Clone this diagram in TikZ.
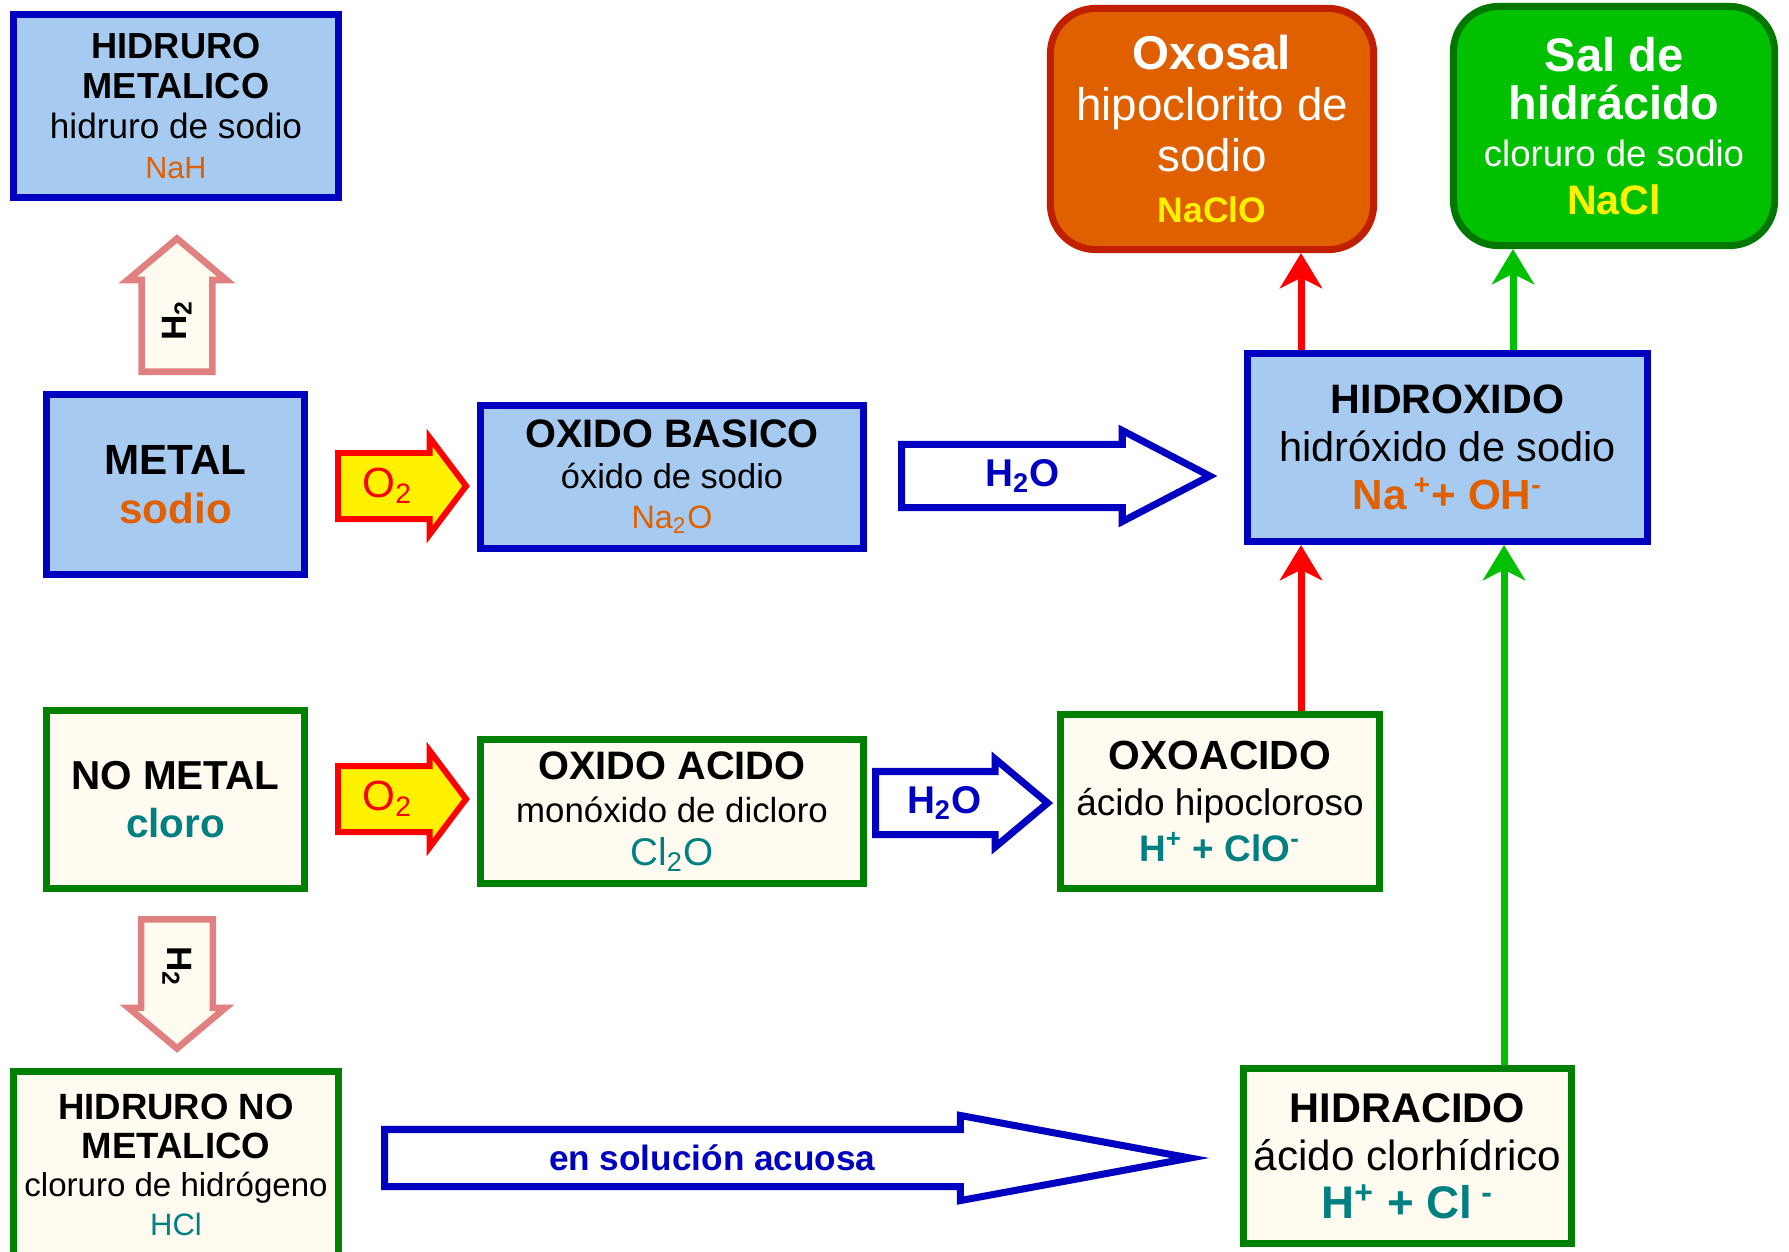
\documentclass[tikz,border=0pt]{standalone}
\usepackage{fontspec}
\setmainfont{Liberation Sans}
\usetikzlibrary{positioning}
\usetikzlibrary{calc}
\usetikzlibrary{shapes.arrows}
\usetikzlibrary{arrows.meta}

\definecolor{boxblue}{HTML}{A6CAF0}
\definecolor{edgeblue}{HTML}{0000C0}
\definecolor{cream}{HTML}{FFFBF0}
\definecolor{edgegreen}{HTML}{008000}
\definecolor{naranja}{HTML}{E06000}
\definecolor{edgeorange}{HTML}{C02000}
\definecolor{verde}{HTML}{00C000}
\definecolor{saledge}{HTML}{007800}
\definecolor{teal2}{HTML}{008080}
\definecolor{salmon}{HTML}{E08080}
\newcommand{\fsz}[1]{\fontsize{#1}{#1}\selectfont}
\newcommand{\bskip}[1]{\fontsize{10}{#1}\selectfont}

\begin{document}
\begin{tikzpicture}[x=0.01cm,y=-0.01cm,
  bluebox/.style={draw=edgeblue,fill=boxblue,line width=2pt,align=center,inner sep=0pt},
  creambox/.style={draw=edgegreen,fill=cream,line width=2pt,align=center,inner sep=0pt},
  salbox/.style={rounded corners=0.45cm,line width=2pt,align=center,inner sep=0pt,text=white},
  blockarrow/.style={single arrow,anchor=tail,inner xsep=0pt},
  oxygen/.style={blockarrow,draw=red,fill=yellow,line width=1.7pt,single arrow tip angle=106,
    minimum height=1.28cm,inner ysep=0.30cm,single arrow head extend=0.155cm},
  water/.style={blockarrow,draw=edgeblue,fill=white,line width=2pt},
  hydrogen/.style={blockarrow,draw=salmon,fill=cream,line width=1.9pt,single arrow tip angle=100},
  redline/.style={draw=red,line width=2pt,-{Stealth[length=10pt,width=12pt,inset=3pt]}},
  greenline/.style={draw=verde,line width=2pt,-{Stealth[length=10pt,width=12pt,inset=3pt]}}]
\useasboundingbox (0,0) rectangle (1789,1251);

\node[bluebox,minimum width=3.25cm,minimum height=1.82cm,font=\bskip{11.4}] (hmetalico) at (176,106)
  {{\fsz{10.3}\bfseries HIDRURO}\\{\fsz{10.3}\bfseries METALICO}\\{\fsz{10}hidruro de sodio}\\{\fsz{8.7}\color{naranja}NaH}};
\node[bluebox,minimum width=2.58cm,minimum height=1.80cm,font=\bskip{14}] (metal) at (175.5,484.5)
  {{\fsz{12}\bfseries METAL}\\{\fsz{12}\bfseries\color{naranja}sodio}};
\node[bluebox,minimum width=3.83cm,minimum height=1.43cm,font=\bskip{11.5}] (oxbasico) at (672,477)
  {{\fsz{11.3}\bfseries OXIDO BASICO}\\{\fsz{9.8}óxido de sodio}\\{\fsz{9.2}\color{naranja}Na\textsubscript{2}O}};
\node[bluebox,minimum width=4.00cm,minimum height=1.88cm,font=\bskip{13.6}] (hidroxido) at (1447.5,447.5)
  {{\fsz{11.7}\bfseries HIDROXIDO}\\{\fsz{11.8}hidróxido de sodio}\\{\fsz{12}\bfseries\color{naranja}Na\,\textsuperscript{+}+ OH\textsuperscript{-}}};
\node[salbox,fill=naranja,draw=edgeorange,minimum width=3.23cm,minimum height=2.41cm,font=\bskip{14.5}] (oxosal) at (1212,129)
  {{\fsz{13.5}\bfseries Oxosal}\\{\fsz{13}hipoclorito de}\\{\fsz{13}sodio}\\{\fsz{10.1}\bfseries\color{yellow}NaClO}};
\node[salbox,fill=verde,draw=saledge,minimum width=3.21cm,minimum height=2.39cm,font=\bskip{13.5}] (salhidracido) at (1614,126)
  {{\fsz{13.4}\bfseries Sal de}\\{\fsz{13.3}\bfseries hidrácido}\\{\fsz{10.4}cloruro de sodio}\\{\fsz{11.7}\bfseries\color{yellow}NaCl}};
\node[creambox,minimum width=2.58cm,minimum height=1.78cm,font=\bskip{13.7}] (nometal) at (175.5,799.5)
  {{\fsz{11.5}\bfseries NO METAL}\\{\fsz{11.5}\bfseries\color{teal2}cloro}};
\node[creambox,minimum width=3.83cm,minimum height=1.44cm,font=\bskip{12.2}] (oxacido) at (672,811.5)
  {{\fsz{11.3}\bfseries OXIDO ACIDO}\\{\fsz{9.9}monóxido de dicloro}\\{\fsz{11}\color{teal2}Cl\textsubscript{2}O}};
\node[creambox,minimum width=3.19cm,minimum height=1.74cm,font=\bskip{13}] (oxoacido) at (1220,801.5)
  {{\fsz{11.6}\bfseries OXOACIDO}\\{\fsz{10.5}ácido hipocloroso}\\{\fsz{10.5}\bfseries\color{teal2}H\textsuperscript{+} + ClO\textsuperscript{-}}};
\node[creambox,minimum width=3.25cm,minimum height=1.87cm,font=\bskip{11}] (hnometalico) at (176,1165)
  {{\fsz{10.4}\bfseries HIDRURO NO}\\{\fsz{10.4}\bfseries METALICO}\\{\fsz{9.4}cloruro de hidrógeno}\\{\fsz{8.8}\color{teal2}HCl}};
\node[creambox,minimum width=3.28cm,minimum height=1.75cm,font=\bskip{13.7}] (hidracido) at (1407.5,1156)
  {{\fsz{11.8}\bfseries HIDRACIDO}\\{\fsz{12}ácido clorhídrico}\\{\fsz{13}\bfseries\color{teal2}H\textsuperscript{+} + Cl\textsuperscript{ -}}};

\node[oxygen] (o2arriba) at (335,486) {};
\node[oxygen] (o2abajo) at (335,799) {};
\node[water,minimum height=3.08cm,inner ysep=0.28cm,single arrow head extend=0.14cm,single arrow tip angle=55] (h2oarriba) at (898,476) {};
\node[water,minimum height=1.72cm,inner ysep=0.28cm,single arrow head extend=0.125cm,single arrow tip angle=80] (h2oabajo) at (872,803) {};
\node[water,minimum height=8.05cm,inner ysep=0.25cm,single arrow head extend=0.14cm,single arrow tip angle=21] (acuosa) at (381,1158) {};
\node[hydrogen,rotate=90,minimum height=1.33cm,inner ysep=0.32cm,single arrow head extend=0.14cm] (h2arriba) at (177,375) {};
\node[hydrogen,rotate=-90,minimum height=1.29cm,inner ysep=0.325cm,single arrow head extend=0.125cm] (h2abajo) at (177,916) {};

\node[red,font=\fsz{12}] (o2a) at ($(o2arriba.tail)!0.39!(o2arriba.tip)$) {O\textsubscript{2}};
\node[red,font=\fsz{12}] (o2b) at ($(o2abajo.tail)!0.39!(o2abajo.tip)$) {O\textsubscript{2}};
\node[edgeblue,font=\fsz{11}\bfseries] (h2oa) at ($(h2oarriba.tail)!0.39!(h2oarriba.tip)$) {H\textsubscript{2}O};
\node[edgeblue,font=\fsz{11}\bfseries] (h2ob) at ($(h2oabajo.tail)!0.40!(h2oabajo.tip)$) {H\textsubscript{2}O};
\node[edgeblue,font=\fsz{10}\bfseries] (acuosat) at ($(acuosa.tail)!0.40!(acuosa.tip)$) {en solución acuosa};
\node[rotate=90,font=\fsz{10}\bfseries] (h2a) at ($(h2arriba.tail)!0.39!(h2arriba.tip)$) {H\textsubscript{2}};
\node[rotate=-90,font=\fsz{10}\bfseries] (h2b) at ($(h2abajo.tail)!0.37!(h2abajo.tip)$) {H\textsubscript{2}};

\coordinate (rojo) at (1301,0);
\coordinate (verdearriba) at (1513,0);
\coordinate (verdeabajo) at (1504,0);
\draw[redline] (hidroxido.north -| rojo) -- (oxosal.south -| rojo);
\draw[redline] (oxoacido.north -| rojo) -- (hidroxido.south -| rojo);
\draw[greenline] (hidroxido.north -| verdearriba) -- (salhidracido.south -| verdearriba);
\draw[greenline] (hidracido.north -| verdeabajo) -- (hidroxido.south -| verdeabajo);
\end{tikzpicture}
\end{document}
